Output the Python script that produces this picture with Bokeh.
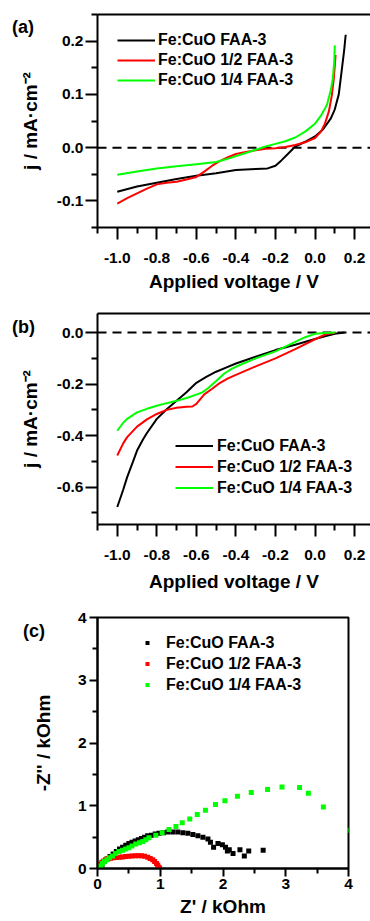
from bokeh.plotting import figure
from bokeh.models import (Range1d, LinearAxis, FixedTicker, NumeralTickFormatter,
                          Span, Legend, LegendItem, Div)
from bokeh.embed import file_html
from bokeh.resources import INLINE

# ---------------- data ----------------
SERIES = ["Fe:CuO FAA-3", "Fe:CuO 1/2 FAA-3", "Fe:CuO 1/4 FAA-3"]
COLORS = ["#000000", "#ff0000", "#00ff00"]
TAGS = ["(a)", "(b)", "(c)"]

# panel (a)
V_A_BLACK = [-1.0, -0.9, -0.8, -0.7, -0.6, -0.5, -0.4, -0.3, -0.24, -0.2, -0.17, -0.14,
             -0.1, -0.05, 0.0, 0.04, 0.08, 0.1, 0.12, 0.135, 0.148, 0.155]
J_A_BLACK = [-0.083, -0.073, -0.066, -0.059, -0.053, -0.048, -0.042, -0.040, -0.039, -0.034,
             -0.024, -0.013, 0.002, 0.011, 0.021, 0.034, 0.055, 0.072, 0.100, 0.145, 0.185, 0.212]
V_A_RED = [-1.0, -0.95, -0.9, -0.85, -0.8, -0.75, -0.7, -0.65, -0.6, -0.56, -0.52, -0.48,
           -0.44, -0.4, -0.35, -0.3, -0.25, -0.2, -0.15, -0.1, -0.05, 0.0, 0.03, 0.05,
           0.07, 0.085, 0.095, 0.104]
J_A_RED = [-0.105, -0.095, -0.086, -0.077, -0.069, -0.066, -0.064, -0.060, -0.055, -0.045,
           -0.034, -0.025, -0.018, -0.012, -0.008, -0.005, -0.002, -0.001, 0.001, 0.005,
           0.010, 0.018, 0.030, 0.045, 0.068, 0.098, 0.130, 0.174]
V_A_GREEN = [-1.0, -0.9, -0.8, -0.7, -0.6, -0.5, -0.45, -0.4, -0.35, -0.3, -0.25, -0.2,
             -0.15, -0.1, -0.05, 0.0, 0.03, 0.06, 0.08, 0.09, 0.097, 0.1]
J_A_GREEN = [-0.051, -0.045, -0.039, -0.035, -0.031, -0.027, -0.022, -0.016, -0.010, -0.004,
             0.002, 0.007, 0.012, 0.019, 0.030, 0.045, 0.060, 0.080, 0.108, 0.130, 0.160, 0.192]

# panel (b)
V_B_BLACK = [-1.0, -0.97, -0.95, -0.92, -0.9, -0.87, -0.85, -0.8, -0.75, -0.7, -0.65, -0.6,
             -0.55, -0.5, -0.45, -0.4, -0.3, -0.2, -0.1, 0.0, 0.05, 0.1, 0.15]
J_B_BLACK = [-0.677, -0.610, -0.561, -0.500, -0.458, -0.415, -0.390, -0.335, -0.298, -0.265,
             -0.232, -0.195, -0.172, -0.152, -0.136, -0.120, -0.094, -0.068, -0.047, -0.025,
             -0.014, -0.005, 0.0]
V_B_RED = [-1.0, -0.97, -0.95, -0.9, -0.85, -0.8, -0.75, -0.7, -0.65, -0.62, -0.6, -0.58,
           -0.56, -0.52, -0.48, -0.44, -0.4, -0.3, -0.2, -0.1, 0.0, 0.05, 0.104]
J_B_RED = [-0.477, -0.430, -0.406, -0.365, -0.337, -0.316, -0.300, -0.292, -0.288, -0.287,
           -0.277, -0.258, -0.240, -0.218, -0.195, -0.178, -0.164, -0.131, -0.100, -0.064,
           -0.026, -0.008, 0.0]
V_B_GREEN = [-1.0, -0.97, -0.95, -0.9, -0.85, -0.8, -0.75, -0.7, -0.65, -0.6, -0.57, -0.54,
             -0.5, -0.46, -0.42, -0.38, -0.3, -0.2, -0.1, -0.05, 0.0, 0.05, 0.1]
J_B_GREEN = [-0.381, -0.350, -0.335, -0.310, -0.296, -0.284, -0.274, -0.265, -0.254, -0.241,
             -0.232, -0.215, -0.188, -0.160, -0.140, -0.126, -0.100, -0.073, -0.036, -0.018,
             -0.005, -0.002, 0.0]

# panel (c)  Z' / kOhm , -Z'' / kOhm
ZR_BLACK = [0.05, 0.08, 0.11, 0.15, 0.2, 0.25, 0.3, 0.35, 0.4, 0.45, 0.5, 0.55, 0.6, 0.65,
            0.7, 0.75, 0.8, 0.86, 0.92, 0.98, 1.05, 1.12, 1.2, 1.28, 1.36, 1.44, 1.52, 1.6,
            1.68, 1.76, 1.80, 1.85, 1.92, 1.99, 2.04, 2.07, 2.10, 2.16, 2.27, 2.34, 2.41, 2.64]
ZI_BLACK = [0.02, 0.07, 0.11, 0.15, 0.19, 0.23, 0.27, 0.31, 0.34, 0.37, 0.40, 0.42, 0.44, 0.46,
            0.48, 0.50, 0.52, 0.53, 0.55, 0.56, 0.57, 0.58, 0.58, 0.58, 0.57, 0.56, 0.54, 0.52,
            0.50, 0.47, 0.42, 0.34, 0.40, 0.38, 0.34, 0.28, 0.30, 0.24, 0.30, 0.20, 0.28, 0.29]
ZR_RED = [0.0, 0.02, 0.04, 0.07, 0.10, 0.13, 0.17, 0.21, 0.25, 0.3, 0.35, 0.4, 0.45, 0.5,
          0.55, 0.6, 0.65, 0.7, 0.75, 0.8, 0.84, 0.88, 0.91, 0.94, 0.96, 0.98, 0.99]
ZI_RED = [0.0, 0.04, 0.07, 0.10, 0.12, 0.14, 0.155, 0.165, 0.17, 0.175, 0.18, 0.185, 0.19,
          0.195, 0.20, 0.205, 0.205, 0.205, 0.195, 0.18, 0.16, 0.14, 0.11, 0.08, 0.05, 0.02, 0.0]
ZR_GREEN = [0.03, 0.05, 0.08, 0.11, 0.15, 0.19, 0.24, 0.29, 0.34, 0.40, 0.45, 0.50, 0.55,
            0.61, 0.67, 0.72, 0.77, 0.82, 0.93, 1.03, 1.14, 1.25, 1.35, 1.47, 1.59, 1.72,
            1.88, 2.03, 2.23, 2.45, 2.71, 2.94, 3.22, 3.36, 3.60, 4.02]
ZI_GREEN = [0.0, 0.04, 0.08, 0.11, 0.14, 0.17, 0.20, 0.24, 0.27, 0.29, 0.31, 0.33, 0.36,
            0.39, 0.41, 0.43, 0.46, 0.49, 0.53, 0.57, 0.62, 0.67, 0.73, 0.79, 0.86, 0.93,
            1.02, 1.08, 1.15, 1.21, 1.26, 1.30, 1.29, 1.20, 0.98, 0.61]

# ticks
V_TICKS = [-1.0, -0.8, -0.6, -0.4, -0.2, 0.0, 0.2]
V_MINOR = [-1.1, -0.9, -0.7, -0.5, -0.3, -0.1, 0.1, 0.3]
JA_TICKS = [-0.1, 0.0, 0.1, 0.2]
JA_MINOR = [-0.15, -0.05, 0.05, 0.15, 0.25]
JB_TICKS = [-0.6, -0.4, -0.2, 0.0]
JB_MINOR = [-0.7, -0.5, -0.3, -0.1]
Z_TICKS = [0, 1, 2, 3, 4]
Z_MINOR = [0.5, 1.5, 2.5, 3.5]

FONT = "Liberation Sans"
W = 370
XR_IV = (-1.1, 0.2805)


def style_axis(ax, tick_out, minor_out, lab_standoff, axis_standoff):
    ax.axis_line_width = 2
    ax.axis_line_color = "black"
    ax.major_tick_line_width = 2
    ax.minor_tick_line_width = 2
    ax.major_tick_line_color = "black"
    ax.minor_tick_line_color = "black"
    ax.major_tick_in = 0
    ax.major_tick_out = tick_out
    ax.minor_tick_in = 0
    ax.minor_tick_out = minor_out
    ax.major_label_text_font = FONT
    ax.major_label_text_font_style = "bold"
    ax.major_label_text_font_size = "15.5px"
    ax.major_label_text_color = "black"
    ax.major_label_standoff = lab_standoff
    ax.axis_label_text_font = FONT
    ax.axis_label_text_font_style = "bold"
    ax.axis_label_text_font_size = "19px"
    ax.axis_label_text_color = "black"
    ax.axis_label_standoff = axis_standoff


def base_fig(height, xr, yr, top, bottom, right):
    p = figure(width=W, height=height, x_range=Range1d(*xr), y_range=Range1d(*yr),
               x_axis_type=None, y_axis_type=None, output_backend="svg",
               toolbar_location=None, min_border_left=97, min_border_right=right,
               min_border_top=top, min_border_bottom=bottom)
    p.xgrid.visible = False
    p.ygrid.visible = False
    return p


def add_legend(p, renderers, loc, gw, gh, standoff):
    items = [LegendItem(label=s, renderers=[r]) for s, r in zip(SERIES, renderers)]
    leg = Legend(items=items, location=loc, padding=0, spacing=0, margin=0,
                 glyph_width=gw, glyph_height=gh, label_height=gh, label_standoff=standoff,
                 border_line_alpha=0, background_fill_alpha=0,
                 label_text_font=FONT, label_text_font_style="bold",
                 label_text_font_size="16px", label_text_color="black")
    p.add_layout(leg)


def tag_div(text, left, top):
    return Div(text=text, styles={"position": "absolute", "left": f"{left}px",
                                  "top": f"{top}px", "font-family": FONT,
                                  "font-weight": "bold", "font-size": "18px",
                                  "line-height": "18px", "color": "black",
                                  "margin": "0", "padding": "0"})


def iv_panel(height, yr, jt, jm, data, loc, gh, standoff, top, bottom, xlab_standoff):
    p = base_fig(height, XR_IV, yr, top, bottom, 0)
    p.outline_line_color = None
    xa = LinearAxis(ticker=FixedTicker(ticks=V_TICKS, minor_ticks=V_MINOR),
                    formatter=NumeralTickFormatter(format="0.0"),
                    axis_label="Applied voltage / V")
    style_axis(xa, 12, 6, 13, xlab_standoff)
    ya = LinearAxis(ticker=FixedTicker(ticks=jt, minor_ticks=jm),
                    formatter=NumeralTickFormatter(format="0.0"),
                    axis_label="j / mA\u00b7cm\u207b\u00b2")
    style_axis(ya, 12, 6, 2, 13)
    ta = LinearAxis(ticker=FixedTicker(ticks=[], minor_ticks=[]))
    ta.axis_line_width = 2
    ta.axis_line_color = "black"
    ta.major_tick_out = 0
    ta.minor_tick_out = 0
    p.add_layout(xa, "below")
    p.add_layout(ya, "left")
    p.add_layout(ta, "above")
    p.add_layout(Span(location=0, dimension="width", line_color="black", line_width=2,
                      line_dash="9 6", level="underlay"))
    rs = []
    for (xs, ys), c in zip(data, COLORS):
        rs.append(p.line(xs, ys, line_color=c, line_width=2))
    add_legend(p, rs, loc, 38, gh, standoff)
    return p


pa = iv_panel(306, (-0.15, 0.25), JA_TICKS, JA_MINOR,
              [(V_A_BLACK, J_A_BLACK), (V_A_RED, J_A_RED), (V_A_GREEN, J_A_GREEN)],
              (20, 137), 20, 3, 14, 79, 5)
pb = iv_panel(300, (-0.745, 0.074), JB_TICKS, JB_MINOR,
              [(V_B_BLACK, J_B_BLACK), (V_B_RED, J_B_RED), (V_B_GREEN, J_B_GREEN)],
              (78, 26), 21, 4, 7, 82, 8)

# panel (c)
pc = base_fig(314, (0, 4), (0, 4), 11, 52, 22)
pc.outline_line_color = "black"
pc.outline_line_width = 2
pc.outline_line_alpha = 1.0
xc = LinearAxis(ticker=FixedTicker(ticks=Z_TICKS, minor_ticks=Z_MINOR),
                formatter=NumeralTickFormatter(format="0"), axis_label="Z' / kOhm")
style_axis(xc, 8, 5, 2, 4)
yc = LinearAxis(ticker=FixedTicker(ticks=Z_TICKS, minor_ticks=Z_MINOR),
                formatter=NumeralTickFormatter(format="0"), axis_label="-Z'' / kOhm")
style_axis(yc, 8, 5, 3, 21)
pc.add_layout(xc, "below")
pc.add_layout(yc, "left")
rc = []
for (xs, ys), c in zip([(ZR_BLACK, ZI_BLACK), (ZR_RED, ZI_RED), (ZR_GREEN, ZI_GREEN)], COLORS):
    rc.append(pc.scatter(xs, ys, marker="square", size=5, fill_color=c, line_color=None))
add_legend(pc, rc, (45, 173), 10, 21, 14)

tags = [tag_div(TAGS[0], 12, 18), tag_div(TAGS[1], 12, 318), tag_div(TAGS[2], 23, 622)]

open("out.html", "w").write(file_html([pa, pb, pc] + tags, INLINE))
